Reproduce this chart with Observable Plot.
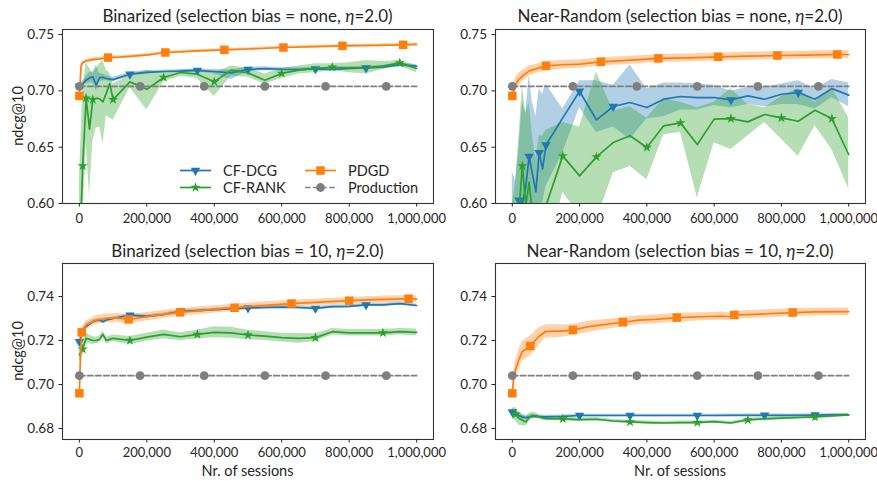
<!DOCTYPE html>
<html><head><meta charset="utf-8">
<script src="https://cdn.jsdelivr.net/npm/d3@7"></script>
<script src="https://cdn.jsdelivr.net/npm/@observablehq/plot@0.6"></script>
<style>
body{margin:0;background:#fff;}
#wrap{position:relative;width:877px;height:481px;font-family:Lato,sans-serif;color:#262626;overflow:hidden;}
#wrap svg.plot{position:absolute;}
#overlay{position:absolute;left:0;top:0;pointer-events:none;}
</style></head><body><div id="wrap"></div>
<script>
const BLUE="#1f77b4", ORANGE="#ff7f0e", GREEN="#2ca02c", GRAY="#7f7f7f";

// shared x grid of the counterfactual methods
const cfX = [0,10000,20000,30000,40000,50000,60000,70000,80000,90000,100000,150000,200000,250000,300000,350000,400000,450000,500000,550000,600000,650000,700000,750000,800000,850000,900000,950000,1000000];
const xTicks = [0,200000,400000,600000,800000,1000000];
const topYTicks = [0.60,0.65,0.70,0.75];
const bottomYTicks = [0.68,0.70,0.72,0.74];
const prodValue = 0.704;
const prodLineX = [0,1000000];
const prodMarkX = [0,180000,370000,550000,730000,910000];

// ---- Binarized, selection bias = none ----
const tlDcg   = [0.704,0.7065,0.7095,0.7115,0.7125,0.705,0.7119,0.712,0.711,0.7105,0.710,0.7148,0.7165,0.7172,0.7175,0.7182,0.7172,0.716,0.719,0.7198,0.7192,0.719,0.7195,0.719,0.720,0.7203,0.7212,0.7232,0.722];
const tlDcgLo = [0.7025,0.7045,0.706,0.707,0.707,0.700,0.708,0.709,0.709,0.708,0.708,0.713,0.715,0.716,0.7165,0.717,0.715,0.710,0.717,0.718,0.7175,0.7175,0.718,0.7175,0.7185,0.719,0.7195,0.7215,0.7205];
const tlDcgHi = [0.7055,0.7085,0.713,0.716,0.717,0.7225,0.7155,0.715,0.7135,0.713,0.712,0.7165,0.718,0.7185,0.7185,0.7195,0.719,0.7185,0.721,0.7215,0.7205,0.7205,0.721,0.7205,0.7215,0.722,0.7228,0.7248,0.7235];
const tlRank   = [0.55,0.6334,0.6935,0.666,0.6923,0.6935,0.693,0.6903,0.698,0.7065,0.6923,0.708,0.7015,0.7119,0.7163,0.7148,0.7081,0.7184,0.716,0.7095,0.7155,0.7184,0.720,0.721,0.7205,0.7205,0.722,0.7249,0.7199];
const tlRankLo = [0.50,0.58,0.655,0.607,0.655,0.667,0.668,0.653,0.678,0.676,0.674,0.703,0.683,0.708,0.713,0.711,0.695,0.713,0.712,0.706,0.711,0.715,0.716,0.718,0.716,0.715,0.719,0.722,0.716];
const tlRankHi = [0.62,0.70,0.725,0.72,0.715,0.72,0.724,0.727,0.718,0.716,0.706,0.714,0.718,0.716,0.719,0.719,0.716,0.722,0.72,0.715,0.72,0.722,0.724,0.724,0.725,0.727,0.726,0.727,0.722];
const tlPdgdX  = [0,5000,10000,20000,40000,60000,85000,120000,170000,210000,255000,300000,350000,430000,500000,605000,700000,780000,880000,960000,1000000];
const tlPdgd   = [0.6955,0.722,0.725,0.7265,0.7277,0.7284,0.7296,0.730,0.7311,0.7322,0.7341,0.7346,0.7355,0.7364,0.7372,0.7385,0.7393,0.740,0.7404,0.7409,0.7413];
const tlPdgdErr= [0.001,0.0015,0.0015,0.0015,0.0015,0.0015,0.0013,0.0013,0.0012,0.0012,0.0012,0.0012,0.0012,0.0012,0.0012,0.0012,0.0012,0.0012,0.0012,0.0012,0.0012];
const tlDcgMarks  = [0,150000,350000,500000,700000,850000];
const tlRankMarks = [10000,20000,40000,100000,250000,400000,600000,750000,950000];
const tlPdgdMarks = [0,85000,255000,430000,605000,780000,960000];

// ---- Near-Random, selection bias = none ----
const trDcg   = [0.55,0.58,0.603,0.60,0.615,0.6417,0.626,0.6103,0.645,0.6305,0.652,0.676,0.6997,0.6743,0.6861,0.6897,0.6852,0.6926,0.695,0.694,0.6941,0.692,0.6956,0.6926,0.697,0.6985,0.6926,0.702,0.6962];
const trDcgLo = [0.54,0.55,0.56,0.57,0.58,0.59,0.58,0.57,0.59,0.60,0.615,0.645,0.685,0.663,0.668,0.657,0.675,0.677,0.683,0.683,0.687,0.685,0.688,0.686,0.688,0.688,0.684,0.694,0.686];
const trDcgHi = [0.628,0.62,0.65,0.69,0.68,0.714,0.69,0.677,0.702,0.697,0.706,0.684,0.709,0.709,0.705,0.723,0.702,0.707,0.707,0.706,0.705,0.700,0.703,0.703,0.706,0.709,0.702,0.710,0.707];
const trRank   = [0.55,0.57,0.595,0.6334,0.598,0.619,0.59,0.57,0.575,0.585,0.598,0.6423,0.6245,0.6414,0.6541,0.6601,0.6497,0.669,0.6716,0.6524,0.6749,0.6754,0.6725,0.679,0.676,0.673,0.6828,0.6754,0.6435];
const trRankLo = [0.50,0.51,0.52,0.53,0.53,0.53,0.52,0.51,0.52,0.53,0.55,0.610,0.590,0.585,0.627,0.633,0.621,0.661,0.663,0.605,0.654,0.648,0.660,0.672,0.657,0.642,0.669,0.648,0.613];
const trRankHi = [0.60,0.62,0.66,0.705,0.68,0.69,0.66,0.64,0.66,0.66,0.665,0.672,0.668,0.717,0.682,0.686,0.676,0.693,0.69,0.685,0.69,0.702,0.688,0.685,0.695,0.702,0.69,0.703,0.676];
const trPdgdX  = [0,5000,10000,20000,30000,50000,70000,100000,150000,200000,263000,340000,434000,520000,612000,700000,788000,880000,966000,1000000];
const trPdgd   = [0.6955,0.701,0.706,0.7105,0.713,0.7178,0.7195,0.7222,0.7232,0.7238,0.7258,0.727,0.7288,0.7293,0.7302,0.7308,0.7314,0.7318,0.7323,0.7323];
const trPdgdErr= [0.006,0.006,0.006,0.0055,0.005,0.0045,0.004,0.004,0.004,0.0038,0.0036,0.0036,0.0035,0.0035,0.0035,0.0035,0.0035,0.0035,0.0035,0.0035];
const trDcgMarks  = [20000,50000,80000,100000,200000,300000,650000,850000];
const trRankMarks = [30000,150000,250000,400000,500000,650000,800000,950000];
const trPdgdMarks = [0,100000,263000,434000,612000,788000,966000];

// ---- Binarized, selection bias = 10 ----
const blDcg   = [0.7195,0.7235,0.7265,0.7275,0.7285,0.729,0.7293,0.7285,0.7293,0.7297,0.730,0.7315,0.731,0.7318,0.7333,0.7336,0.734,0.7345,0.7348,0.735,0.7352,0.735,0.7346,0.7354,0.7355,0.7362,0.7362,0.7368,0.7359];
const blDcgErr= [0.002,0.0018,0.0012,0.001,0.0009,0.0008,0.0008,0.0008,0.0007,0.0007,0.0007,0.0007,0.0007,0.0007,0.0007,0.0007,0.0007,0.0007,0.0007,0.0007,0.0007,0.0007,0.0007,0.0007,0.0007,0.0007,0.0007,0.0007,0.0007];
const blRank   = [0.7135,0.7161,0.721,0.7205,0.720,0.720,0.7205,0.7228,0.720,0.7205,0.721,0.720,0.7215,0.7228,0.7217,0.7228,0.7237,0.7235,0.7225,0.722,0.7213,0.721,0.7213,0.724,0.7235,0.7235,0.7235,0.724,0.7237];
const blRankErr= [0.003,0.003,0.0025,0.002,0.0018,0.0015,0.0015,0.0015,0.0015,0.0015,0.0015,0.0018,0.0018,0.002,0.0018,0.002,0.0025,0.0025,0.0022,0.002,0.002,0.0022,0.0018,0.0015,0.0015,0.0015,0.0015,0.0015,0.0015];
const blPdgdX  = [0,3000,7000,20000,50000,80000,110000,146000,200000,250000,299000,380000,460000,550000,629000,700000,800000,900000,976000,1000000];
const blPdgd   = [0.696,0.712,0.7237,0.727,0.7293,0.7301,0.7303,0.7296,0.7308,0.7319,0.7328,0.7339,0.7349,0.736,0.7368,0.7373,0.7381,0.7387,0.739,0.7388];
const blPdgdErr= [0.001,0.002,0.002,0.002,0.002,0.002,0.002,0.002,0.0019,0.0018,0.0018,0.0017,0.0016,0.0016,0.0015,0.0015,0.0015,0.0015,0.0015,0.0015];
const blDcgMarks  = [0,150000,300000,500000,700000,850000];
const blRankMarks = [10000,150000,350000,500000,700000,900000];
const blPdgdMarks = [0,7000,146000,299000,460000,629000,800000,976000];

// ---- Near-Random, selection bias = 10 ----
const brDcg   = [0.6875,0.6868,0.6858,0.6852,0.685,0.6852,0.6855,0.6855,0.6853,0.6853,0.6853,0.6855,0.6859,0.6859,0.6859,0.6859,0.6859,0.6859,0.6859,0.6859,0.6859,0.686,0.686,0.686,0.686,0.686,0.6861,0.6862,0.6862];
const brDcgErr= [0.0015,0.0015,0.0013,0.0012,0.001,0.0009,0.0008,0.0008,0.0007,0.0007,0.0007,0.0006,0.0006,0.0006,0.0006,0.0006,0.0006,0.0006,0.0006,0.0006,0.0006,0.0006,0.0006,0.0006,0.0006,0.0006,0.0006,0.0006,0.0006];
const brRank   = [0.6868,0.6865,0.6845,0.6838,0.683,0.685,0.686,0.6858,0.6853,0.6848,0.6845,0.6844,0.684,0.6842,0.6834,0.683,0.6827,0.6825,0.6827,0.6827,0.6831,0.6825,0.6839,0.6844,0.6847,0.685,0.6853,0.6857,0.6862];
const brRankErr= [0.0025,0.003,0.003,0.0025,0.002,0.0018,0.0015,0.0012,0.001,0.001,0.001,0.0009,0.0008,0.0008,0.0007,0.0007,0.0007,0.0007,0.0007,0.0007,0.0007,0.0007,0.0007,0.0007,0.0007,0.0007,0.0007,0.0007,0.0006];
const brPdgdX  = [0,4000,9000,19000,29000,53500,78000,98000,118000,148000,180000,227000,277000,328700,375000,425000,489000,563000,623000,643000,660000,722000,833600,900000,1000000];
const brPdgd   = [0.696,0.7027,0.7065,0.711,0.7149,0.7175,0.7217,0.724,0.7243,0.7243,0.7248,0.7263,0.7273,0.7283,0.7293,0.7296,0.7304,0.7308,0.7311,0.7308,0.7316,0.7319,0.7327,0.733,0.7331];
const brPdgdErr= [0.002,0.003,0.004,0.0045,0.0045,0.0045,0.004,0.003,0.003,0.0028,0.0025,0.0025,0.0023,0.0022,0.002,0.002,0.002,0.0018,0.0018,0.0018,0.0018,0.0018,0.0018,0.0017,0.0017];
const brDcgMarks  = [0,200000,350000,550000,750000,900000];
const brRankMarks = [10000,150000,350000,550000,700000,900000];
const brPdgdMarks = [0,53500,180000,328700,489000,660000,833600];

// ---- table builders ----
const band = (xs, ys, lo, hi) => xs.map((x, i) => ({x, y: ys[i], lo: lo[i], hi: hi[i]}));
const bandErr = (xs, ys, err) => xs.map((x, i) => ({x, y: ys[i], lo: ys[i] - err[i], hi: ys[i] + err[i]}));

const panels = [
  {left:0, top:0, width:437, height:230, mL:62, mR:4, mT:29, mB:27, yDomain:[0.60,0.7545], yTicks:topYTicks, xPad:7,
   dcg: band(cfX, tlDcg, tlDcgLo, tlDcgHi), rank: band(cfX, tlRank, tlRankLo, tlRankHi), pdgd: bandErr(tlPdgdX, tlPdgd, tlPdgdErr),
   dcgMarks: tlDcgMarks, rankMarks: tlRankMarks, pdgdMarks: tlPdgdMarks},
  {left:437, top:0, width:440, height:230, mL:58, mR:12, mT:29, mB:27, yDomain:[0.60,0.7545], yTicks:topYTicks, xPad:7,
   dcg: band(cfX, trDcg, trDcgLo, trDcgHi), rank: band(cfX, trRank, trRankLo, trRankHi), pdgd: bandErr(trPdgdX, trPdgd, trPdgdErr),
   dcgMarks: trDcgMarks, rankMarks: trRankMarks, pdgdMarks: trPdgdMarks},
  {left:0, top:230, width:437, height:251, mL:62, mR:4, mT:33, mB:42, yDomain:[0.675,0.755], yTicks:bottomYTicks, xPad:5,
   dcg: bandErr(cfX, blDcg, blDcgErr), rank: bandErr(cfX, blRank, blRankErr), pdgd: bandErr(blPdgdX, blPdgd, blPdgdErr),
   dcgMarks: blDcgMarks, rankMarks: blRankMarks, pdgdMarks: blPdgdMarks},
  {left:437, top:230, width:440, height:251, mL:58, mR:12, mT:33, mB:42, yDomain:[0.675,0.755], yTicks:bottomYTicks, xPad:5,
   dcg: bandErr(cfX, brDcg, brDcgErr), rank: bandErr(cfX, brRank, brRankErr), pdgd: bandErr(brPdgdX, brPdgd, brPdgdErr),
   dcgMarks: brDcgMarks, rankMarks: brRankMarks, pdgdMarks: brPdgdMarks}
];

const SYM = {tri: 3.5, star: 3.2, square: 4.8, circle: 4.4};

function makePanel(p) {
  const prod = prodLineX.map(x => ({x, y: prodValue}));
  const prodPts = prodMarkX.map(x => ({x, y: prodValue}));
  const pick = (data, xs) => data.filter(d => xs.includes(d.x));
  const area = (data, c) => Plot.areaY(data, {x: "x", y1: "lo", y2: "hi", fill: c, fillOpacity: 0.35, clip: true});
  const line = (data, c, extra = {}) => Plot.line(data, {x: "x", y: "y", stroke: c, strokeWidth: 1.7, clip: true, ...extra});
  const svg = Plot.plot({
    width: p.width, height: p.height,
    marginLeft: p.mL, marginRight: p.mR, marginTop: p.mT, marginBottom: p.mB,
    style: {fontFamily: "Lato, sans-serif", fontSize: "13px", color: "#262626", background: "none", overflow: "visible"},
    x: {domain: [-50000, 1050000]},
    y: {domain: p.yDomain},
    marks: [
      area(p.dcg, BLUE), area(p.rank, GREEN), area(p.pdgd, ORANGE),
      line(p.dcg, BLUE),
      Plot.dot(pick(p.dcg, p.dcgMarks), {x: "x", y: "y", symbol: "triangle", rotate: 180, r: SYM.tri, fill: BLUE, clip: true}),
      line(p.rank, GREEN),
      Plot.dot(pick(p.rank, p.rankMarks), {x: "x", y: "y", symbol: "star", r: SYM.star, fill: GREEN, clip: true}),
      line(p.pdgd, ORANGE),
      Plot.dot(pick(p.pdgd, p.pdgdMarks), {x: "x", y: "y", symbol: "square", r: SYM.square, fill: ORANGE, clip: true}),
      line(prod, GRAY, {strokeDasharray: "5.5,2.6"}),
      Plot.dot(prodPts, {x: "x", y: "y", symbol: "circle", r: SYM.circle, fill: GRAY, clip: true}),
      Plot.frame({stroke: "#333", strokeWidth: 1.1}),
      Plot.axisX({ticks: xTicks, tickFormat: d3.format(","), tickSize: 3.5, tickPadding: p.xPad, label: null, fontSize: 13}),
      Plot.axisY({ticks: p.yTicks, tickFormat: d3.format(".2f"), tickSize: 3.5, tickPadding: 5, label: null, fontSize: 13.5})
    ]
  });
  svg.classList.add("plot");
  svg.style.left = p.left + "px";
  svg.style.top = p.top + "px";
  return svg;
}

const wrap = document.getElementById("wrap");
panels.forEach(p => wrap.appendChild(makePanel(p)));

// ---- overlay: titles, axis labels, legend ----
const titles = [
  {x: 247.5, y: 22, pre: "Binarized (selection bias = none, ", post: "=2.0)"},
  {x: 680, y: 22, pre: "Near-Random (selection bias = none, ", post: "=2.0)"},
  {x: 247.5, y: 257, pre: "Binarized (selection bias = 10, ", post: "=2.0)"},
  {x: 680, y: 257, pre: "Near-Random (selection bias = 10, ", post: "=2.0)"}
];
const ov = d3.select(wrap).append("svg").attr("id", "overlay").attr("width", 877).attr("height", 481)
  .style("font-family", "Lato, sans-serif").attr("fill", "#262626");
titles.forEach(t => {
  const tx = ov.append("text").attr("x", t.x).attr("y", t.y).attr("text-anchor", "middle").attr("font-size", 17);
  tx.append("tspan").text(t.pre);
  tx.append("tspan").attr("font-style", "italic").text("η");
  tx.append("tspan").text(t.post);
});
[[116, "ndcg@10"], [351, "ndcg@10"]].forEach(([cy, s]) => {
  ov.append("text").attr("transform", `translate(22.5,${cy}) rotate(-90)`).attr("text-anchor", "middle").attr("font-size", 14.5).text(s);
});
[247.5, 680].forEach(cx => {
  ov.append("text").attr("x", cx).attr("y", 476).attr("text-anchor", "middle").attr("font-size", 14.5).text("Nr. of sessions");
});

const legendItems = [
  {label: "CF-DCG", color: BLUE, sym: d3.symbolTriangle, r: SYM.tri, rot: 180, dash: null, col: 0, row: 0},
  {label: "CF-RANK", color: GREEN, sym: d3.symbolStar, r: SYM.star, rot: 0, dash: null, col: 0, row: 1},
  {label: "PDGD", color: ORANGE, sym: d3.symbolSquare, r: SYM.square, rot: 0, dash: null, col: 1, row: 0},
  {label: "Production", color: GRAY, sym: d3.symbolCircle, r: SYM.circle, rot: 0, dash: "5.5,2.6", col: 1, row: 1}
];
const colX = [180, 305], rowY = [170.5, 187.5];
legendItems.forEach(it => {
  const x0 = colX[it.col], y0 = rowY[it.row];
  ov.append("line").attr("x1", x0).attr("x2", x0 + 31).attr("y1", y0).attr("y2", y0)
    .attr("stroke", it.color).attr("stroke-width", 1.7).attr("stroke-dasharray", it.dash);
  ov.append("path").attr("d", d3.symbol(it.sym, Math.PI * it.r * it.r)())
    .attr("transform", `translate(${x0 + 15.5},${y0}) rotate(${it.rot})`).attr("fill", it.color);
  ov.append("text").attr("x", x0 + 43).attr("y", y0 + 5).attr("font-size", 14.5).text(it.label);
});
</script></body></html>
